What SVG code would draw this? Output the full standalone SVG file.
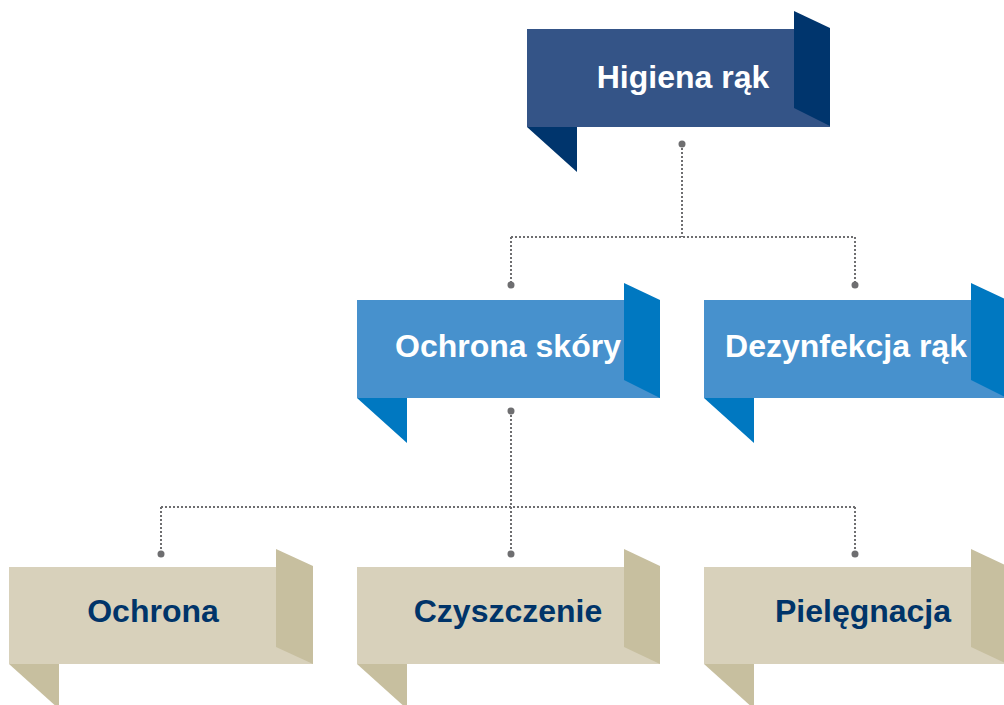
<svg xmlns="http://www.w3.org/2000/svg" width="1004" height="705" viewBox="0 0 1004 705">
<style>
.t{font-family:"Liberation Sans",Arial,sans-serif;font-weight:bold;font-size:32px;text-anchor:middle}
.w{fill:#ffffff}
.d{fill:#003469}
.c{fill:none;stroke:#6e6e70;stroke-width:2;stroke-dasharray:2 2}
.dot{fill:#6e6e70}
</style>
<rect width="1004" height="705" fill="#ffffff"/>
<g id="connectors">
<path class="c" d="M682 144V237M511 237H855M511 237V285M855 237V285"/>
<path class="c" d="M511 411V507M161 507H855M161 507V554M511 507V554M855 507V554"/>
<circle class="dot" cx="682" cy="144" r="3.5"/>
<circle class="dot" cx="511" cy="285" r="3.5"/>
<circle class="dot" cx="855" cy="285" r="3.5"/>
<circle class="dot" cx="511" cy="411" r="3.5"/>
<circle class="dot" cx="161" cy="554" r="3.5"/>
<circle class="dot" cx="511" cy="554" r="3.5"/>
<circle class="dot" cx="855" cy="554" r="3.5"/>
</g>
<g id="n-higiena">
<rect x="527" y="29" width="303" height="98" fill="#345487"/>
<polygon points="794,11 830,28 830,126 794,108" fill="#00356d"/>
<polygon points="527,127 577,127 577,172" fill="#00356d"/>
<text class="t w" x="683" y="88">Higiena rąk</text>
</g>
<g id="n-ochrona-skory">
<rect x="357" y="300" width="303" height="98" fill="#4791cd"/>
<polygon points="624,283 660,300 660,398 624,380" fill="#0078c1"/>
<polygon points="357,398 407,398 407,443" fill="#0078c1"/>
<text class="t w" x="508" y="357">Ochrona skóry</text>
</g>
<g id="n-dezynfekcja">
<rect x="704" y="300" width="303" height="98" fill="#4791cd"/>
<polygon points="971,283 1007,300 1007,398 971,380" fill="#0078c1"/>
<polygon points="704,398 754,398 754,443" fill="#0078c1"/>
<text class="t w" x="846" y="357">Dezynfekcja rąk</text>
</g>
<g id="n-ochrona">
<rect x="9" y="567" width="304" height="97" fill="#d8d1bb"/>
<polygon points="276,549 313,566 313,664 276,647" fill="#c7bf9f"/>
<polygon points="9,664 59,664 59,709" fill="#c7bf9f"/>
<text class="t d" x="153" y="622">Ochrona</text>
</g>
<g id="n-czyszczenie">
<rect x="357" y="567" width="303" height="97" fill="#d8d1bb"/>
<polygon points="624,549 660,566 660,664 624,647" fill="#c7bf9f"/>
<polygon points="357,664 407,664 407,709" fill="#c7bf9f"/>
<text class="t d" x="508" y="622">Czyszczenie</text>
</g>
<g id="n-pielegnacja">
<rect x="704" y="567" width="303" height="97" fill="#d8d1bb"/>
<polygon points="971,549 1007,566 1007,664 971,647" fill="#c7bf9f"/>
<polygon points="704,664 754,664 754,709" fill="#c7bf9f"/>
<text class="t d" x="863" y="622">Pielęgnacja</text>
</g>
</svg>
